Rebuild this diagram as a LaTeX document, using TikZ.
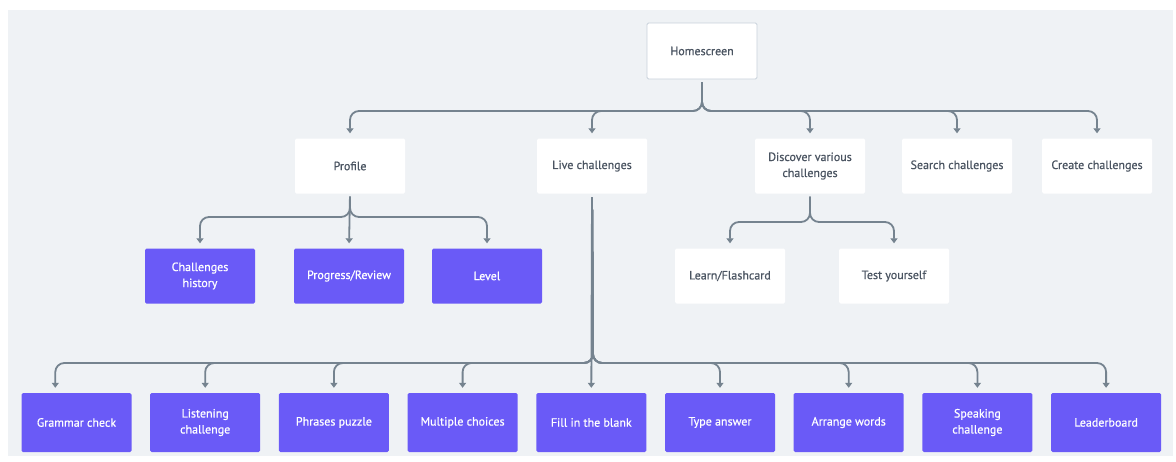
\documentclass[tikz,border=0pt]{standalone}
\usepackage{fontspec}
\setmainfont{PT Sans}[FakeBold=0.6]
\usepackage{xcolor}
\definecolor{bgcol}{HTML}{EFF2F5}
\definecolor{linecol}{HTML}{75838F}
\definecolor{taskcol}{HTML}{6A5AF7}
\definecolor{textcol}{HTML}{4A5461}
\definecolor{framecol}{HTML}{C8D1DB}
\usetikzlibrary{arrows.meta,positioning}

\begin{document}
\begin{tikzpicture}[x=1pt,y=-1pt, >={Triangle[length=5pt,width=7pt]},
  box/.style={minimum width=110pt,minimum height=55pt,inner sep=2pt,align=center,
    rounded corners=1.5pt,font=\fontsize{12}{16}\selectfont},
  page/.style={box,fill=white,text=textcol},
  home/.style={page,draw=framecol,line width=0.8pt,minimum height=56pt},
  task/.style={box,fill=taskcol,text=white,minimum height=59pt},
  link/.style={draw=linecol,line width=1.8pt,rounded corners=9pt,->,
    shorten >=5pt,shorten <=3pt}]

  % canvas
  \fill[white] (0,0) rectangle (1176,461);
  \fill[bgcol] (8,10) rectangle (1173,456);

  \node[home] (home) at (702,51) {Homescreen};

  % main screens
  \node[page] (profile)  at (350,166)  {Profile};
  \node[page] (live)     at (592,166)  {Live challenges};
  \node[page] (discover) at (810,166)  {Discover various\\challenges};
  \node[page] (search)   at (957,166)  {Search challenges};
  \node[page] (create)   at (1097,166) {Create challenges};

  % profile screens
  \node[task] (history)  at (200,276) [minimum height=55pt] {Challenges\\history};
  \node[task] (progress) at (349,276) [minimum height=55pt] {Progress/Review};
  \node[task] (level)    at (487,276) [minimum height=55pt] {Level};

  % discover screens
  \node[page] (learn) at (730,276) {Learn/Flashcard};
  \node[page] (test)  at (894,276) {Test yourself};

  % challenge types
  \node[task] (grammar) at (76.5,422.5) {Grammar check};
  \node[task,right=18.3pt of grammar]   (listen)   {Listening\\challenge};
  \node[task,right=18.3pt of listen]    (phrases)  {Phrases puzzle};
  \node[task,right=18.3pt of phrases]   (multi)    {Multiple choices};
  \node[task,right=18.3pt of multi]     (blank)    {Fill in the blank};
  \node[task,right=18.3pt of blank]     (type)     {Type answer};
  \node[task,right=18.3pt of type]      (arrange)  {Arrange words};
  \node[task,right=18.3pt of arrange]   (speak)    {Speaking\\challenge};
  \node[task,right=18.3pt of speak]     (board)    {Leaderboard};

  % branch points
  \coordinate (homehub) at (702,111);
  \coordinate (profhub) at (350,217);
  \coordinate (dischub) at (810,222);
  \coordinate (livehub) at (593,363);

  \foreach \n in {profile,live,discover,search,create}
    \draw[link] (home.south) -- (homehub) -| (\n.north);

  \draw[link] (profile.south) -- (profhub) -| (history.north);
  \draw[link] (profile.south) -- (progress.north);
  \draw[link] (profile.south) -- (profhub) -| (level.north);

  \draw[link] (discover.south) -- (dischub) -| (learn.north);
  \draw[link] (discover.south) -- (dischub) -| (test.north);

  \draw[link,shorten <=4pt] (live.south) -- (livehub) -| ([xshift=34pt]grammar.north west);
  \foreach \n in {listen,phrases,multi,type,arrange,speak,board}
    \draw[link,shorten <=4pt] (live.south) -- (livehub) -| (\n.north);
  \draw[link,shorten <=4pt] (live.south) -- (blank.north);
\end{tikzpicture}
\end{document}
